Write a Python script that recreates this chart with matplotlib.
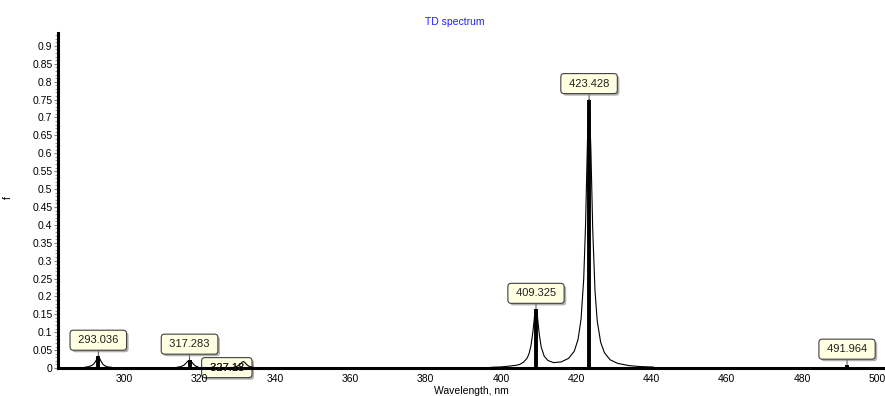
import matplotlib
matplotlib.use("Agg")
import matplotlib.pyplot as plt
from matplotlib.ticker import MultipleLocator, FuncFormatter
from matplotlib import patheffects

plt.rcParams['font.family'] = ['Liberation Sans', 'DejaVu Sans']

# --- stick data (wavelength, oscillator strength) ---
stick_nm = [293.036, 317.283, 327.18, 409.325, 423.428, 491.964]
stick_f = [0.033, 0.022, 0.003, 0.164, 0.750, 0.008]
stick_labels = ["293.036", "317.283", "327.18", "409.325", "423.428", "491.964"]
# label box offsets in points (the crowded 327.18 one sits on the baseline)
label_dy = [11.5, 11.5, -0.5, 11.5, 11.5, 11.5]
label_dx = [0, 0, 0, 0, 0, 0]

# --- broadened envelope (separate segments) ---
env1_x = [289.5, 290.5, 291.3, 291.9, 292.4, 292.8, 293.036, 293.3, 293.7, 294.2, 294.8, 295.6, 296.5]
env1_y = [0.002, 0.004, 0.007, 0.012, 0.020, 0.029, 0.033, 0.029, 0.020, 0.011, 0.006, 0.003, 0.002]

env2_x = [314.0, 315.0, 315.8, 316.4, 316.9, 317.283, 317.7, 318.2, 318.8, 319.5]
env2_y = [0.002, 0.004, 0.008, 0.014, 0.020, 0.022, 0.019, 0.012, 0.006, 0.003]

env3_x = [329.0, 330.0, 330.7, 331.2, 331.6, 332.0, 332.5, 333.2, 334.2]
env3_y = [0.002, 0.005, 0.010, 0.016, 0.018, 0.015, 0.009, 0.004, 0.002]

env4_x = [397.5, 400, 402, 404, 405, 406, 407, 407.5, 408, 408.5, 409, 409.325,
          409.7, 410.2, 410.7, 411.5, 412.5, 414, 416, 418, 419.5, 420.5, 421.3,
          422, 422.5, 423, 423.428, 423.9, 424.4, 425, 425.6, 426.5, 427.5, 429,
          431, 434, 437, 440.5]
env4_y = [0.002, 0.003, 0.005, 0.0075, 0.010, 0.016, 0.028, 0.041, 0.063, 0.101,
          0.150, 0.164, 0.144, 0.094, 0.059, 0.033, 0.021, 0.015, 0.017, 0.027,
          0.047, 0.080, 0.137, 0.248, 0.403, 0.633, 0.750, 0.614, 0.386, 0.216,
          0.131, 0.072, 0.043, 0.023, 0.013, 0.0067, 0.004, 0.0026]

envelopes = [(env1_x, env1_y), (env2_x, env2_y), (env3_x, env3_y), (env4_x, env4_y)]

fig = plt.figure(figsize=(8.85, 3.96), dpi=100)
ax = fig.add_axes([58 / 885, 1 - 368 / 396, 1 - 58 / 885, (368 - 33) / 396])

for ex, ey in envelopes:
    ax.plot(ex, ey, color='black', lw=0.8, zorder=2)

ax.vlines(stick_nm, 0, stick_f, color='black', lw=2.8, zorder=3)

for x, f, lab, dx, dy in zip(stick_nm, stick_f, stick_labels, label_dx, label_dy):
    # the baseline box is drawn under the curve and axis line, as in the source
    low = dy < 0
    ann = ax.annotate(" " + lab + " ", xy=(x, f), xytext=(dx, dy),
                      textcoords='offset points', ha='center', va='center',
                      fontsize=8, color='#202020', zorder=1 if low else 6,
                      bbox=dict(boxstyle='round,pad=0.45,rounding_size=0.3',
                                fc='#ffffe1', ec='#404040', lw=0.8),
                      arrowprops=dict(arrowstyle='-', color='#303030', lw=0.6,
                                      shrinkA=0, shrinkB=0))
    ann.get_bbox_patch().set_path_effects([
        patheffects.withSimplePatchShadow(offset=(1.5, -1.5), shadow_rgbFace='#808080', alpha=0.6)])
    if low:
        # text stays on top of the lines
        ax.annotate(" " + lab + " ", xy=(x, f), xytext=(dx, dy),
                    textcoords='offset points', ha='center', va='center',
                    fontsize=8, color='#202020', zorder=7)

ax.set_xlim(282.33, 502.05)
ax.set_ylim(0, 0.936)

ax.xaxis.set_major_locator(MultipleLocator(20))
ax.yaxis.set_major_locator(MultipleLocator(0.05))
ax.yaxis.set_minor_locator(MultipleLocator(0.01))
ax.yaxis.set_major_formatter(FuncFormatter(lambda v, p: f"{v:.2f}".rstrip('0').rstrip('.') if v > 1e-9 else "0"))

for s in ['top', 'right']:
    ax.spines[s].set_visible(False)
ax.spines['left'].set_linewidth(2.2)
ax.spines['bottom'].set_linewidth(2.2)

ax.tick_params(axis='x', length=0, labelsize=7.5, pad=4)
ax.tick_params(axis='y', which='major', length=3, width=0.8, color='#808080', labelsize=7.5, pad=1)
ax.tick_params(axis='y', which='minor', length=2, width=0.8, color='#a0a0a0')

ax.set_xlabel("Wavelength, nm", fontsize=7.5, labelpad=2)
fig.text(8 / 885, 1 - 198 / 396, "f", rotation=90, fontsize=7.5, ha='center', va='center')
fig.text(455 / 885, 1 - 22 / 396, "TD spectrum", fontsize=7.5, color='#2020ff', ha='center', va='center')

fig.savefig("out.png", dpi=100)
